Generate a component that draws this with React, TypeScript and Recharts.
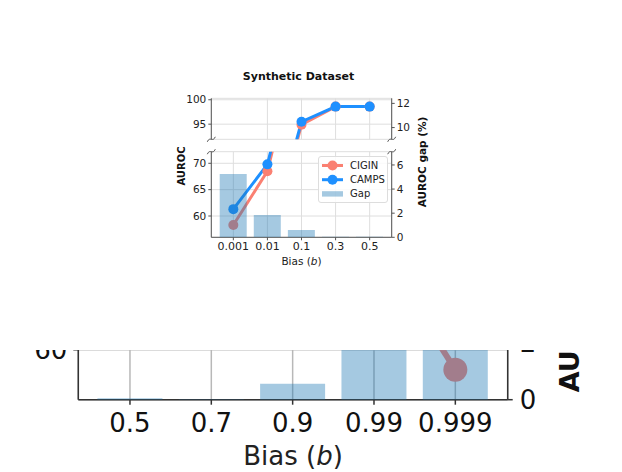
import { ComposedChart, Line, Bar, XAxis, YAxis, CartesianGrid, Legend, Label } from "recharts";

// top panel: synthetic dataset, bias sweep
const BIAS_TOP = ["0.001", "0.01", "0.1", "0.3", "0.5"];
const CIGIN_TOP = [58.3, 68.5, 94.9, 98.6, 98.6];
const CAMPS_TOP = [61.3, 69.8, 95.5, 98.6, 98.6];
const GAP_TOP = [5.25, 1.85, 0.6, 0.05, 0.05];

// bottom (cropped) panel
const BIAS_BOTTOM = ["0.5", "0.7", "0.9", "0.99", "0.999"];
const CIGIN_BOTTOM: (number | null)[] = [null, null, null, 68.7, 58.4];
const GAP_BOTTOM = [0.05, 0.02, 0.56, 4.4, 5.6];

const UPPER_LEFT_TICKS = [95, 100];
const UPPER_RIGHT_TICKS = [10, 12];
const LOWER_LEFT_TICKS = [60, 65, 70];
const LOWER_RIGHT_TICKS = [0, 2, 4, 6];
const BOTTOM_LEFT_TICKS = [60, 65, 70];
const BOTTOM_RIGHT_TICKS = [0, 2, 4, 6];

const SALMON = "#fa8072";
const DODGER = "#1e90ff";
const GAP_BLUE = "#1f77b4";

const topRows = BIAS_TOP.map((bias, i) => ({ bias, cigin: CIGIN_TOP[i], camps: CAMPS_TOP[i], gap: GAP_TOP[i] }));
const bottomRows = BIAS_BOTTOM.map((bias, i) => ({ bias, cigin: CIGIN_BOTTOM[i], gap: GAP_BOTTOM[i] }));

const W = 622;
const H = 472;
const PL = 211.3;
const PR = 391.7;
const UP_TOP = 98.3;
const UP_BOT = 139.3;
const LO_TOP = 151.7;
const LO_BOT = 237.3;

const axisTop = { stroke: "#555", strokeWidth: 1 };
const axisBottom = { stroke: "#333", strokeWidth: 1.5 };
const layer = { position: "absolute" as const, left: 0, top: 0 };

const LEGEND_ITEMS = [
  { name: "CIGIN", color: SALMON, kind: "line" },
  { name: "CAMPS", color: DODGER, kind: "line" },
  { name: "Gap", color: GAP_BLUE, kind: "bar" },
];

function LegendBox() {
  return (
    <div style={{ width: 70, height: 47, boxSizing: "border-box", border: "1px solid #ddd", borderRadius: 3, background: "rgba(255,255,255,0.85)" }}>
      <svg width={68} height={45}>
        {LEGEND_ITEMS.map((it, i) => {
          const cy = 8.5 + i * 14.2;
          return (
            <g key={it.name}>
              {it.kind === "line" ? (
                <>
                  <line x1={3} x2={24} y1={cy} y2={cy} stroke={it.color} strokeWidth={3} />
                  <circle cx={13.5} cy={cy} r={5} fill={it.color} />
                </>
              ) : (
                <rect x={3} y={cy - 2.7} width={21} height={5.4} fill={it.color} fillOpacity={0.4} />
              )}
              <text x={31} y={cy + 3.5} fontSize={10} fill="#222">{it.name}</text>
            </g>
          );
        })}
      </svg>
    </div>
  );
}

function BiasLabel({ viewBox, dy, size }: any) {
  const cx = viewBox.x + viewBox.width / 2;
  return (
    <text x={cx} y={viewBox.y + dy} textAnchor="middle" fontSize={size} fill="#222">
      Bias (<tspan fontStyle="italic">b</tspan>)
    </text>
  );
}

function GapLabelBottom({ viewBox }: any) {
  const x = viewBox.x + 62.3;
  const y = viewBox.y + viewBox.height - 7.5;
  return (
    <text x={x} y={y} transform={`rotate(-90 ${x} ${y})`} textAnchor="start" dominantBaseline="central" fontSize={27} fontWeight="bold" fill="#111">
      AUROC gap (%)
    </text>
  );
}

function breakMark(x: number, y: number, key: string) {
  return <path key={key} d={`M ${x - 4} ${y + 2.5} C ${x - 1.5} ${y - 3.5}, ${x + 1.5} ${y + 3.5}, ${x + 4} ${y - 2.5}`} stroke="#555" strokeWidth={1} fill="none" />;
}

// bars sit above the lines (twin axis drawn last), so they get their own layer
function GapBars({ rows, margin, xHeight, xPad, yWidth, domain }: any) {
  return (
    <ComposedChart width={W} height={H} data={rows} margin={margin}>
      <XAxis dataKey="bias" scale="band" height={xHeight} padding={xPad} axisLine={false} tickLine={false} tick={false} />
      <YAxis yAxisId="l" width={yWidth} axisLine={false} tickLine={false} tick={false} />
      <YAxis yAxisId="r" orientation="right" width={yWidth} domain={domain} allowDataOverflow axisLine={false} tickLine={false} tick={false} />
      <Bar yAxisId="r" dataKey="gap" fill={GAP_BLUE} fillOpacity={0.4} isAnimationActive={false} />
    </ComposedChart>
  );
}

export default function App() {
  const loMargin = { top: LO_TOP, bottom: H - LO_BOT - 30, left: PL - 40, right: W - PR - 40 };
  const btMargin = { top: 200, bottom: H - 399.7 - 72, left: 78.3 - 60, right: W - 507.7 - 60 };
  return (
    <div style={{ position: "absolute", left: 0, top: 0, width: W, height: H, background: "#fff", fontFamily: "DejaVu Sans" }}>
      {/* upper piece of the broken axis */}
      <div style={layer}>
        <ComposedChart width={W} height={H} data={topRows} margin={{ top: UP_TOP, bottom: H - UP_BOT, left: PL - 40, right: W - PR - 40 }}>
          <CartesianGrid yAxisId="l" stroke="#dedede" />
          <XAxis dataKey="bias" scale="band" hide height={0} padding={{ left: 5, right: 5 }} />
          <YAxis yAxisId="l" width={40} domain={[91.9, 100.3]} ticks={UPPER_LEFT_TICKS} interval={0} allowDataOverflow axisLine={axisTop} tickLine={axisTop} tickSize={3} tick={{ fill: "#222", fontSize: 10.5 }} />
          <YAxis yAxisId="r" orientation="right" width={40} domain={[9.03, 12.42]} ticks={UPPER_RIGHT_TICKS} interval={0} allowDataOverflow axisLine={axisTop} tickLine={axisTop} tickSize={3} tick={{ fill: "#222", fontSize: 10.5 }} />
          <Line yAxisId="l" dataKey="cigin" stroke={SALMON} strokeWidth={3} dot={{ r: 5, fill: SALMON, strokeWidth: 0 }} isAnimationActive={false} />
          <Line yAxisId="l" dataKey="camps" stroke={DODGER} strokeWidth={3} dot={{ r: 5, fill: DODGER, strokeWidth: 0 }} isAnimationActive={false} />
        </ComposedChart>
      </div>

      {/* lower piece */}
      <div style={layer}>
        <ComposedChart width={W} height={H} data={topRows} margin={loMargin}>
          <CartesianGrid yAxisId="l" stroke="#dedede" />
          <XAxis dataKey="bias" scale="band" height={30} padding={{ left: 5, right: 5 }} interval={0} axisLine={axisTop} tickLine={axisTop} tickSize={3} tick={{ fill: "#222", fontSize: 11 }}>
            <Label content={(p: any) => <BiasLabel {...p} dy={27.5} size={10.5} />} />
          </XAxis>
          <YAxis yAxisId="l" width={40} domain={[55.96, 72.2]} ticks={LOWER_LEFT_TICKS} interval={0} allowDataOverflow axisLine={axisTop} tickLine={axisTop} tickSize={3} tick={{ fill: "#222", fontSize: 10.5 }} />
          <YAxis yAxisId="r" orientation="right" width={40} domain={[0, 7.1]} ticks={LOWER_RIGHT_TICKS} interval={0} allowDataOverflow axisLine={axisTop} tickLine={axisTop} tickSize={3} tick={{ fill: "#222", fontSize: 10.5 }} />
          <Line yAxisId="l" dataKey="cigin" stroke={SALMON} strokeWidth={3} dot={{ r: 5, fill: SALMON, strokeWidth: 0 }} isAnimationActive={false} />
          <Line yAxisId="l" dataKey="camps" stroke={DODGER} strokeWidth={3} dot={{ r: 5, fill: DODGER, strokeWidth: 0 }} isAnimationActive={false} />
        </ComposedChart>
      </div>
      <div style={layer}>
        <GapBars rows={topRows} margin={loMargin} xHeight={30} xPad={{ left: 5, right: 5 }} yWidth={40} domain={[0, 7.1]} />
      </div>

      {/* legend layer on top of the bars */}
      <div style={layer}>
        <ComposedChart width={W} height={H} data={topRows} margin={loMargin}>
          <Legend content={<LegendBox />} layout="vertical" align="center" verticalAlign="middle" wrapperStyle={{ left: 318.3, top: 156, width: 70, height: 47 }} />
        </ComposedChart>
      </div>

      {/* title, axis titles and break marks */}
      <svg width={W} height={H} style={{ position: "absolute", left: 0, top: 0, pointerEvents: "none" }}>
        <text x={298.5} y={80} textAnchor="middle" fontSize={11} fontWeight="bold" fill="#111">Synthetic Dataset</text>
        <text x={181.7} y={166} transform="rotate(-90 181.7 166)" textAnchor="middle" dominantBaseline="central" fontSize={10} fontWeight="bold" fill="#111">AUROC</text>
        <text x={421.5} y={162} transform="rotate(-90 421.5 162)" textAnchor="middle" dominantBaseline="central" fontSize={10.5} fontWeight="bold" fill="#111">AUROC gap (%)</text>
        {breakMark(PL, UP_BOT, "a")}
        {breakMark(PL, LO_TOP, "b")}
        {breakMark(PR, UP_BOT, "c")}
        {breakMark(PR, LO_TOP, "d")}
      </svg>

      {/* second figure, only its bottom strip is on the page */}
      <div style={{ position: "absolute", left: 0, top: 350, width: W, height: H - 350, overflow: "hidden" }}>
        <div style={{ position: "absolute", left: 0, top: -350 }}>
          <ComposedChart width={W} height={H} data={bottomRows} margin={btMargin}>
            <CartesianGrid yAxisId="l" stroke="#b8b8b8" strokeWidth={1.5} />
            <XAxis dataKey="bias" scale="band" height={72} padding={{ left: 11, right: 11.7 }} interval={0} axisLine={axisBottom} tickLine={axisBottom} tickSize={5} tickMargin={9} tick={{ fill: "#111", fontSize: 26 }}>
              <Label content={(p: any) => <BiasLabel {...p} dy={64.8} size={26} />} />
            </XAxis>
            <YAxis yAxisId="l" width={60} domain={[56, 72]} ticks={BOTTOM_LEFT_TICKS} interval={0} allowDataOverflow axisLine={axisBottom} tickLine={axisBottom} tickSize={5} tickMargin={6} tick={{ fill: "#111", fontSize: 26 }} />
            <YAxis yAxisId="r" orientation="right" width={60} domain={[0, 6.98]} ticks={BOTTOM_RIGHT_TICKS} interval={0} allowDataOverflow axisLine={axisBottom} tickLine={axisBottom} tickSize={5} tickMargin={7} tick={{ fill: "#111", fontSize: 26 }}>
              <Label content={(p: any) => <GapLabelBottom {...p} />} />
            </YAxis>
            <Line yAxisId="l" dataKey="cigin" stroke={SALMON} strokeWidth={6} dot={{ r: 12, fill: SALMON, strokeWidth: 0 }} isAnimationActive={false} />
          </ComposedChart>
        </div>
        <div style={{ position: "absolute", left: 0, top: -350 }}>
          <GapBars rows={bottomRows} margin={btMargin} xHeight={72} xPad={{ left: 11, right: 11.7 }} yWidth={60} domain={[0, 6.98]} />
        </div>
      </div>
    </div>
  );
}
